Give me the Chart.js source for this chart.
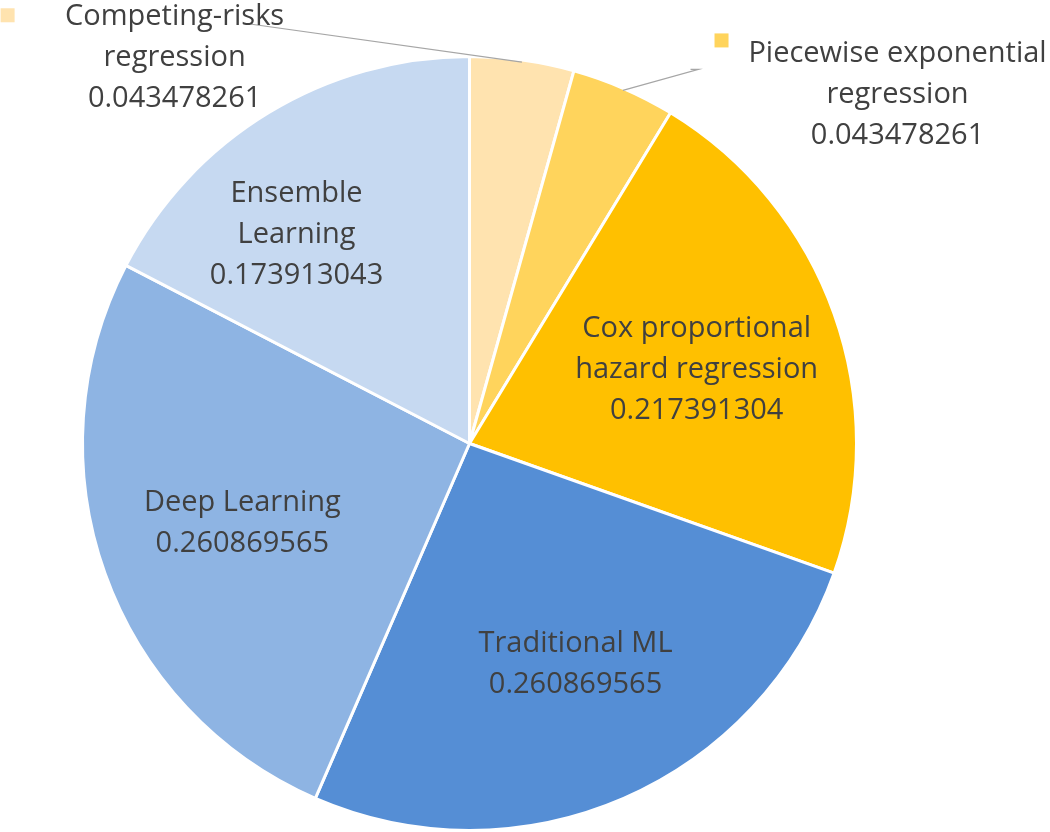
<!DOCTYPE html>
<html>
<head>
<meta charset="utf-8">
<script src="https://cdn.jsdelivr.net/npm/chart.js@4.4.1/dist/chart.umd.min.js"></script>
<style>
  html, body { margin: 0; padding: 0; background: #fff; }
  #wrap { width: 1050px; height: 832px; position: relative; }
</style>
</head>
<body>
<div id="wrap"><canvas id="chart"></canvas></div>
<script>
const categories = [
    'Competing-risks regression',
    'Piecewise exponential regression',
    'Cox proportional hazard regression',
    'Traditional ML',
    'Deep Learning',
    'Ensemble Learning'
];
const shares = [0.043478261, 0.043478261, 0.217391304, 0.260869565, 0.260869565, 0.173913043];
const colors = ['#FFE3AF', '#FFD45C', '#FFC000', '#558ED5', '#8EB4E3', '#C6D9F1'];

// how each label is broken into lines, as in the original
const labelLines = [
    ['Competing-risks', 'regression'],
    ['Piecewise exponential', 'regression'],
    ['Cox proportional', 'hazard regression'],
    ['Traditional ML'],
    ['Deep Learning'],
    ['Ensemble', 'Learning']
];
// label centre, in units of the pie radius from the pie centre
const labelPos = [
    [-0.762, -0.998],
    [1.106, -0.902],
    [0.587, -0.191],
    [0.274, 0.571],
    [-0.587, 0.207],
    [-0.447, -0.540]
];
// outside labels get a key square and a leader line (px from label centre)
const keyBox = [[-167, -42], [-176, -54], null, null, null, null];
const leader = [[[70, -34]], [[-199, -25], [-207, -25]], null, null, null, null];

const TEXT = '#404040';
const FONT = '29px "Open Sans"';
const LINE_H = 41;

const labelPlugin = {
    id: 'pieLabels',
    afterDatasetsDraw(chart) {
        const ctx = chart.ctx;
        const meta = chart.getDatasetMeta(0);
        ctx.save();
        meta.data.forEach((arc, i) => {
            const R = arc.outerRadius;
            const lx = arc.x + labelPos[i][0] * R;
            const ly = arc.y + labelPos[i][1] * R;

            if (leader[i]) {
                const mid = (arc.startAngle + arc.endAngle) / 2;
                const ex = arc.x + Math.cos(mid) * (R - 2);
                const ey = arc.y + Math.sin(mid) * (R - 2);
                ctx.strokeStyle = '#A6A6A6';
                ctx.lineWidth = 1.2;
                ctx.beginPath();
                ctx.moveTo(ex, ey);
                leader[i].forEach(p => ctx.lineTo(lx + p[0], ly + p[1]));
                ctx.stroke();
            }

            const lines = labelLines[i].concat([String(shares[i])]);
            ctx.font = FONT;
            ctx.fillStyle = TEXT;
            ctx.textAlign = 'center';
            ctx.textBaseline = 'middle';
            const top = ly - (lines.length - 1) * LINE_H / 2;
            lines.forEach((t, k) => ctx.fillText(t, lx, top + k * LINE_H));

            if (keyBox[i]) {
                ctx.fillStyle = colors[i];
                ctx.fillRect(lx + keyBox[i][0] - 7, ly + keyBox[i][1] - 7, 14, 14);
            }
        });
        ctx.restore();
    }
};

const ctx = document.getElementById('chart').getContext('2d');
const myChart = new Chart(ctx, {
    type: 'pie',
    data: {
        labels: categories,
        datasets: [{
            data: shares,
            backgroundColor: colors,
            borderColor: '#FFFFFF',
            borderWidth: 3
        }]
    },
    options: {
        responsive: true,
        maintainAspectRatio: false,
        animation: false,
        layout: { padding: { left: 80, right: 191, top: 55, bottom: 0 } },
        plugins: {
            legend: { display: false },
            tooltip: { enabled: false }
        }
    },
    plugins: [labelPlugin]
});
</script>
</body>
</html>
